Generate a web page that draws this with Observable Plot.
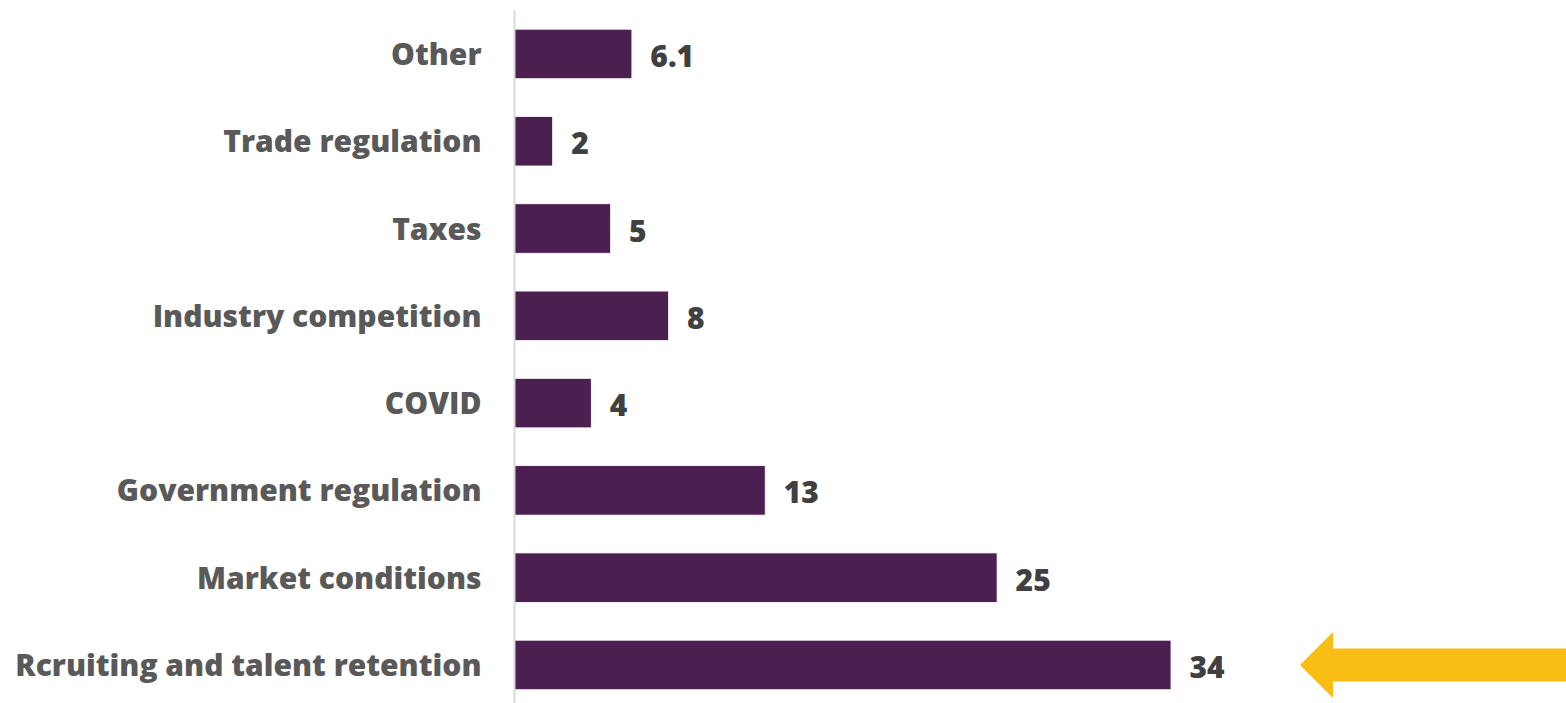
<!DOCTYPE html>
<html>
<head>
<meta charset="utf-8">
<script src="https://cdn.jsdelivr.net/npm/d3@7"></script>
<script src="https://cdn.jsdelivr.net/npm/@observablehq/plot@0.6"></script>
<style>
  html, body { margin: 0; padding: 0; background: #ffffff; }
  #chart svg { display: block; }
</style>
</head>
<body>
<div id="chart"></div>
<script>
const categories = [
  "Other",
  "Trade regulation",
  "Taxes",
  "Industry competition",
  "COVID",
  "Government regulation",
  "Market conditions",
  "Rcruiting and talent retention"
];
const values = [6.1, 2, 5, 8, 4, 13, 25, 34];
const highlighted = "Rcruiting and talent retention";

const data = categories.map((c, i) => ({category: c, value: values[i]}));

const FONT = "'Open Sans', 'DejaVu Sans', sans-serif";

function arrowMark(index, scales, vals, dims) {
  const ns = "http://www.w3.org/2000/svg";
  const g = document.createElementNS(ns, "g");
  const row = data.find(d => d.category === highlighted);
  const cy = scales.y(row.category) + scales.y.bandwidth() / 2;
  const tip = scales.x(row.value) + 129;
  const tail = dims.width;
  const headLen = 33, headHalf = 33, shaftHalf = 16.5;
  const p = document.createElementNS(ns, "path");
  p.setAttribute("d",
    `M${tip},${cy} L${tip + headLen},${cy - headHalf} L${tip + headLen},${cy - shaftHalf} ` +
    `L${tail},${cy - shaftHalf} L${tail},${cy + shaftHalf} L${tip + headLen},${cy + shaftHalf} ` +
    `L${tip + headLen},${cy + headHalf} Z`);
  p.setAttribute("fill", "#F9BE14");
  g.appendChild(p);
  return g;
}

const chart = Plot.plot({
  width: 1566,
  height: 703,
  marginLeft: 514,
  marginRight: 0,
  marginTop: 10,
  marginBottom: 0,
  style: {fontFamily: FONT, background: "#ffffff"},
  x: {domain: [0, 34], range: [514, 1171], axis: null},
  y: {domain: categories, range: [-8.6, 727.5], padding: 0.433, round: false, axis: null},
  marks: [
    Plot.barX(data, {
      x: "value", y: "category",
      fill: "#4B1F50", stroke: "#ffffff", strokeWidth: 0.8
    }),
    Plot.ruleX([0], {stroke: "#d9d9d9", strokeWidth: 2}),
    Plot.axisY({
      label: null,
      tickSize: 0, tickPadding: 33, fontSize: 30, fontWeight: 800, dy: 1,
      fill: "#595959", textAnchor: "end"
    }),
    Plot.text(data, {
      x: "value", y: "category", text: d => String(d.value),
      dx: 18, dy: 3, textAnchor: "start", fontSize: 30, fontWeight: 800, fill: "#404040"
    }),
    arrowMark
  ]
});

document.getElementById("chart").appendChild(chart);
</script>
</body>
</html>
